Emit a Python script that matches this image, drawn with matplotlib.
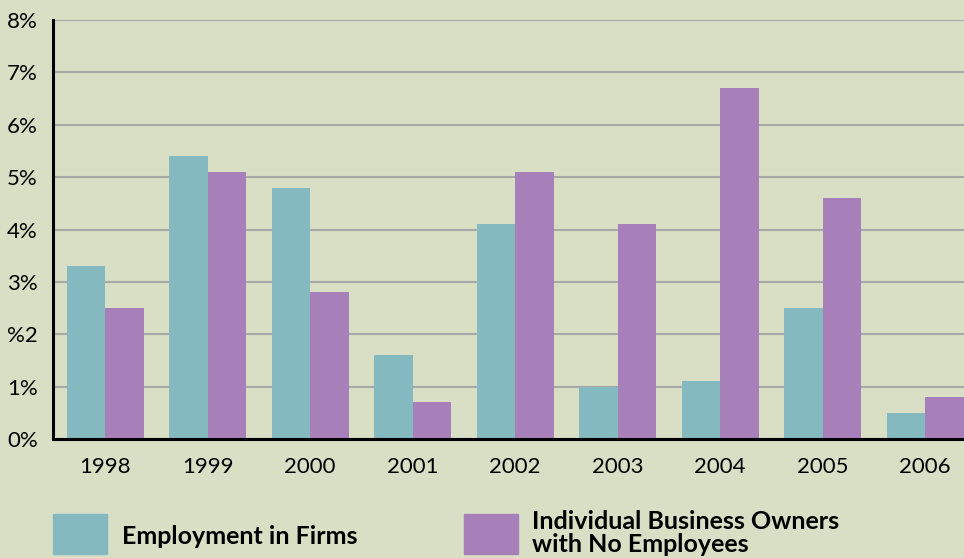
import matplotlib.pyplot as plt
import matplotlib.patches as mpatches
import numpy as np

years = ['1998', '1999', '2000', '2001', '2002', '2003', '2004', '2005', '2006']
firms = [3.3, 5.4, 4.8, 1.6, 4.1, 1.0, 1.1, 2.5, 0.5]
owners = [2.5, 5.1, 2.8, 0.7, 5.1, 4.1, 6.7, 4.6, 0.8]
ytick_labels = ['0%', '1%', '%2', '3%', '4%', '5%', '6%', '7%', '8%']

bg = '#d8dfc5'
teal = '#85b9c0'
purple = '#a880b9'

plt.rcParams['font.family'] = ['Lato', 'DejaVu Sans']

fig = plt.figure(figsize=(9.64, 5.58), dpi=100, facecolor=bg)
ax = fig.add_axes([0.055, 0.2133, 0.945, 0.7508])
ax.set_facecolor(bg)

x = np.arange(len(years))
w = 0.376
ax.bar(x - w / 2, firms, width=w, color=teal, zorder=3)
ax.bar(x + w / 2, owners, width=w, color=purple, zorder=3)

ax.set_xlim(-0.51, 8.38)
ax.set_ylim(0, 8)
ax.set_yticks(range(9))
ax.set_yticklabels(ytick_labels, fontsize=16)
ax.set_xticks(x)
ax.set_xticklabels(years, fontsize=16)
ax.tick_params(axis='both', length=0)
ax.tick_params(axis='y', pad=11)
ax.tick_params(axis='x', pad=13)

ax.yaxis.grid(True, color='#a8a8a8', linewidth=1.5, zorder=0)
for s in ['top', 'right']:
    ax.spines[s].set_visible(False)
ax.spines['left'].set_linewidth(2.2)
ax.spines['bottom'].set_linewidth(2.2)
ax.spines['left'].set_zorder(4)
ax.spines['bottom'].set_zorder(4)

# legend at the bottom
W, H = 964, 558
fig.patches.append(mpatches.Rectangle((53 / W, 1 - 554 / H), 54 / W, 40 / H,
                                      transform=fig.transFigure, color=teal))
fig.text(122 / W, 1 - 536 / H, 'Employment in Firms', fontsize=18,
         fontweight='bold', va='center', ha='left')
fig.patches.append(mpatches.Rectangle((464 / W, 1 - 554 / H), 54 / W, 40 / H,
                                      transform=fig.transFigure, color=purple))
fig.text(532 / W, 1 - 533 / H, 'Individual Business Owners\nwith No Employees',
         fontsize=18, fontweight='bold', va='center', ha='left', linespacing=1.0)

plt.savefig('out.png', dpi=100, facecolor=bg)
